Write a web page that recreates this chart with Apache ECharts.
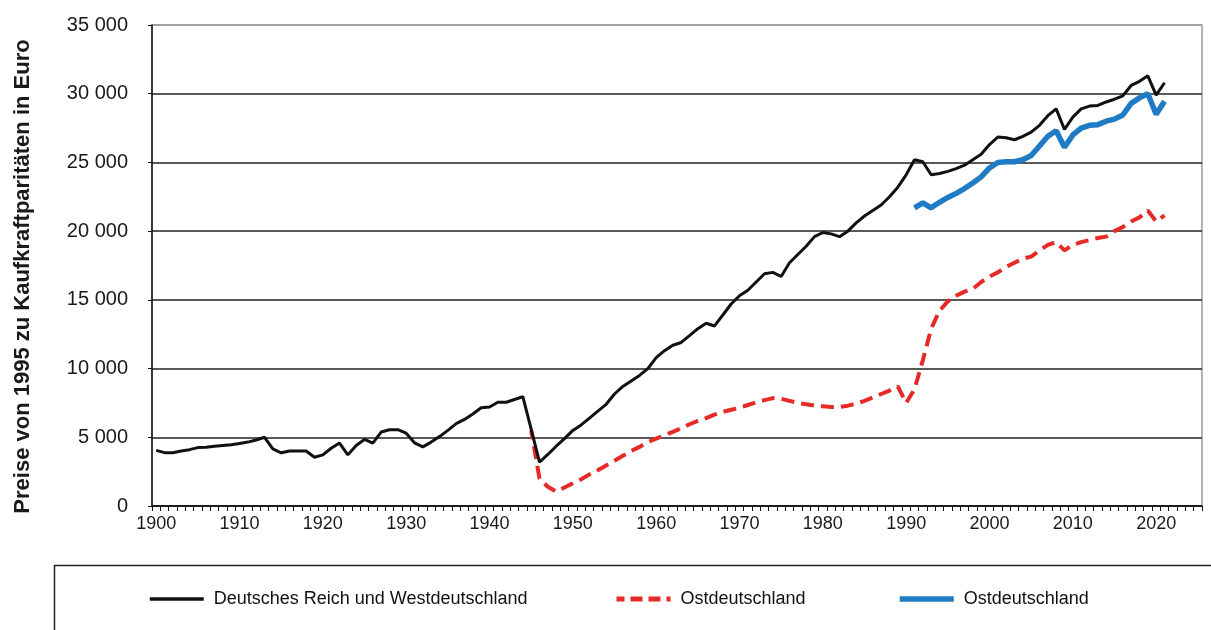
<!DOCTYPE html>
<html>
<head>
<meta charset="utf-8">
<script src="https://cdn.jsdelivr.net/npm/echarts@6/dist/echarts.min.js"></script>
<style>
html,body{margin:0;padding:0;background:#fff;}
#chart{width:1211px;height:630px;}
</style>
</head>
<body>
<div id="chart"></div>
<script>
// ---- Data ----
const firstYear = 1900;
const lastYear = 2025;
const yTicks = [0, 5000, 10000, 15000, 20000, 25000, 30000, 35000];

const westStart = 1900;
const westValues = [
  4050, 3880, 3880, 4000, 4100, 4250, 4280, 4350, 4400, 4450,
  4550, 4650, 4800, 5000, 4150, 3870, 4000, 4000, 4000, 3550,
  3720, 4200, 4580, 3720, 4400, 4850, 4580, 5380, 5550, 5550,
  5300, 4600, 4300, 4650, 5050, 5500, 6000, 6300, 6700, 7150,
  7200, 7550, 7550, 7750, 7950, 5600, 3200, 3750, 4350, 4900,
  5500, 5900, 6400, 6900, 7400, 8150, 8700, 9100, 9500, 10000,
  10800, 11300, 11700, 11900, 12400, 12900, 13300, 13100, 13900, 14700,
  15300, 15700, 16300, 16900, 17000, 16700, 17700, 18300, 18900, 19600,
  19900, 19800, 19600, 20000, 20600, 21100, 21500, 21900, 22500, 23200,
  24100, 25200, 25050, 24100, 24200, 24350, 24550, 24800, 25200, 25600,
  26300, 26850, 26800, 26650, 26900, 27200, 27700, 28400, 28900, 27400,
  28300, 28900, 29100, 29150, 29400, 29600, 29850, 30600, 30900, 31300,
  29900, 30800
];

const eastOldStart = 1945;
const eastOldValues = [
  5500, 2000, 1400, 1050, 1350,
  1650, 1950, 2300, 2600, 2950, 3300, 3650, 4000, 4300, 4650,
  4900, 5150, 5400, 5650, 5950, 6200, 6400, 6650, 6850, 7000,
  7150, 7350, 7550, 7700, 7850, 7800, 7650, 7500, 7400, 7300,
  7250, 7200, 7200, 7300, 7450, 7650, 7900, 8150, 8400, 8700,
  7500, 8500, 10600, 12900, 14200, 14900, 15300, 15600, 15800, 16300,
  16700, 17000, 17400, 17700, 18000, 18150, 18600, 19000, 19200, 18600,
  19000, 19200, 19350, 19500, 19600, 20000, 20300, 20700, 21000, 21500,
  20700, 21150
];

const eastNewStart = 1991;
const eastNewValues = [
  21700, 22050, 21700, 22100, 22450, 22750, 23100, 23500, 23950,
  24600, 25000, 25050, 25050, 25200, 25500, 26200, 26900, 27300, 26100,
  27000, 27500, 27700, 27750, 28000, 28150, 28450, 29300, 29700, 30000,
  28500, 29450
];

const seriesNames = ['Deutsches Reich und Westdeutschland', 'Ostdeutschland', 'Ostdeutschland'];

// ---- Build ----
const categories = [];
for (let y = firstYear; y <= lastYear; y++) categories.push(String(y));
function pairs(start, vals) { return vals.map((v, i) => [String(start + i), v]); }

const FONT = "'Liberation Sans', Arial, sans-serif";
const labelFmt = v => v >= 1000 ? (Math.floor(v / 1000) + ' ' + String(v % 1000).padStart(3, '0')) : String(v);

const BLACK = '#111', RED = '#e52a27', BLUE = '#1f7bc4';

const chart = echarts.init(document.getElementById('chart'), null, {renderer: 'canvas'});
const legendBase = {
  orient: 'horizontal', top: 590, itemWidth: 54, itemHeight: 14, padding: 0,
  textStyle: {fontFamily: FONT, fontSize: 18, color: '#111', padding: [0, 0, 0, 5]},
  itemStyle: {opacity: 0},
  selectedMode: false
};
chart.setOption({
  animation: false,
  backgroundColor: '#fff',
  grid: {left: 152, right: 9, top: 25, bottom: 124, show: true, borderColor: '#9a9a9a', borderWidth: 1.5},
  graphic: [{
    type: 'rect', left: 52, top: 563, silent: true,
    shape: {width: 1200, height: 100},
    style: {fill: 'none', stroke: '#222', lineWidth: 1.5}
  }],
  legend: [
    Object.assign({}, legendBase, {left: 148, data: ['w'], formatter: () => seriesNames[0],
      lineStyle: {color: BLACK, width: 3.5}}),
    Object.assign({}, legendBase, {left: 614, data: ['o1'], formatter: () => seriesNames[1],
      lineStyle: {color: RED, width: 5, type: [12, 6]}}),
    Object.assign({}, legendBase, {left: 897, data: ['o2'], formatter: () => seriesNames[2],
      lineStyle: {color: BLUE, width: 5.5}})
  ],
  xAxis: {
    type: 'category', data: categories, boundaryGap: true,
    axisLine: {lineStyle: {color: '#111', width: 1.5}},
    axisTick: {show: true, interval: 0, length: 5, lineStyle: {color: '#111', width: 1}},
    axisLabel: {
      interval: (i, v) => Number(v) % 10 === 0,
      fontFamily: FONT, fontSize: 18, color: '#1a1a1a', margin: 9
    },
    splitLine: {show: false}
  },
  yAxis: {
    type: 'value', min: 0, max: 35000, interval: 5000,
    name: 'Preise von 1995 zu Kaufkraftparitäten in Euro',
    nameLocation: 'middle', nameGap: 118,
    nameTextStyle: {fontFamily: FONT, fontWeight: 'bold', fontSize: 22, color: '#1a1a1a', padding: [0, 22, 0, 0]},
    axisLine: {show: true, lineStyle: {color: '#111', width: 1.5}},
    axisTick: {show: true, length: 4, lineStyle: {color: '#111'}},
    axisLabel: {formatter: labelFmt, fontFamily: FONT, fontSize: 20, color: '#1a1a1a', margin: 24},
    splitLine: {show: true, lineStyle: {color: ['#222','#222','#222','#222','#222','#222','#222','#9a9a9a'], width: 1.5}}
  },
  series: [
    {name: 'w', type: 'line', data: pairs(westStart, westValues), symbol: 'none', showSymbol: false,
     lineStyle: {color: BLACK, width: 3}, itemStyle: {color: BLACK}, z: 3},
    {name: 'o1', type: 'line', data: pairs(eastOldStart, eastOldValues), symbol: 'none', showSymbol: false,
     lineStyle: {color: RED, width: 4, type: [13, 7], dashOffset: 4}, itemStyle: {color: RED}, z: 2},
    {name: 'o2', type: 'line', data: pairs(eastNewStart, eastNewValues), symbol: 'none', showSymbol: false,
     lineStyle: {color: BLUE, width: 5.5}, itemStyle: {color: BLUE}, z: 2}
  ]
});
</script>
</body>
</html>
